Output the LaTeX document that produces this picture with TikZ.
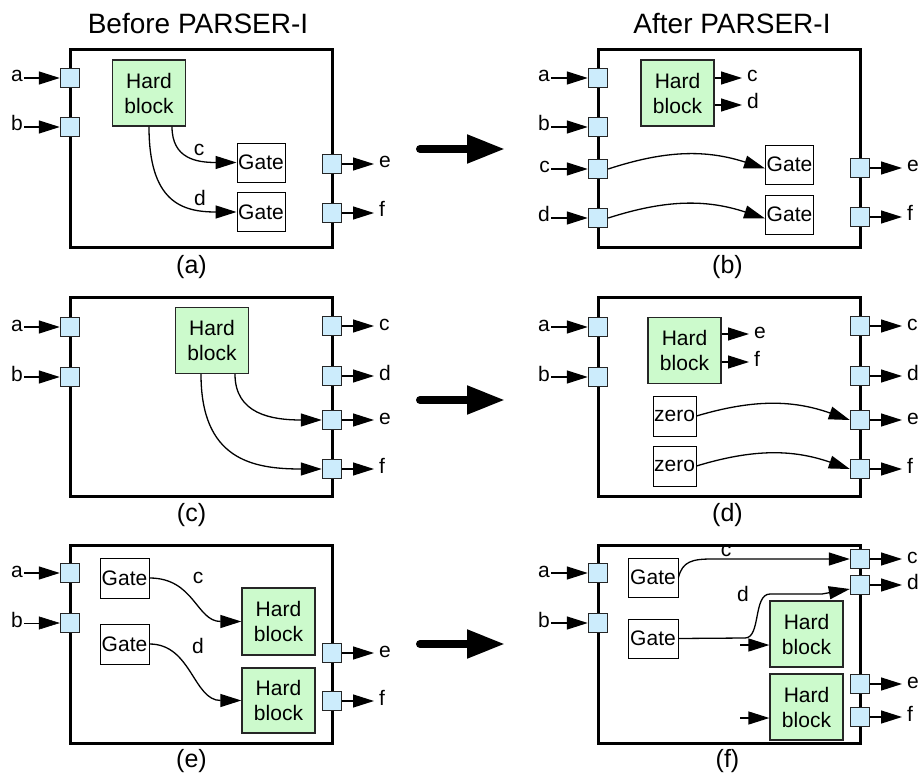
\documentclass[tikz,border=0pt]{standalone}
\usepackage{fontspec}
\setmainfont{Liberation Sans}
\usepackage{tikz}
\usepackage{xcolor}
\usetikzlibrary{arrows.meta}

\definecolor{portblue}{RGB}{204,236,252}
\definecolor{hardgreen}{RGB}{204,250,204}
\newcommand\labelsz{\fontsize{21}{25}\selectfont}
\newcommand\headsz{\fontsize{28}{32}\selectfont}
\newcommand\capsz{\fontsize{25}{28}\selectfont}

\tikzset{
    frame/.style={line width=3pt},
    port/.style={draw=black!85, line width=1.4pt, fill=portblue, minimum size=19pt, inner sep=0pt},
    hard/.style={draw=black!85, line width=1.3pt, fill=hardgreen, align=center, inner sep=0pt,
        minimum width=73pt, minimum height=66pt, font=\labelsz},
    gate/.style={draw, line width=0.9pt, inner sep=0pt, minimum width=48pt, minimum height=39pt, font=\labelsz},
    zero/.style={gate, minimum width=43pt, minimum height=40pt},
    lbl/.style={inner sep=1pt, font=\labelsz},
    inl/.style={lbl, anchor=base east},
    outl/.style={lbl, anchor=base west, inner xsep=5pt},
    arr/.style={line width=1.3pt, -{Triangle[length=21pt,width=13pt]}},
    bigarr/.style={line width=8pt, line cap=round, -{Triangle[length=38pt,width=27pt]}},
}

\begin{document}
\begin{tikzpicture}[x=1pt, y=-1pt]
        \useasboundingbox (0,0) rectangle (918,778);

        \node[font=\headsz] at (198,24) (tbefore) {Before PARSER-I};
        \node[font=\headsz] at (732,24) (tafter) {After PARSER-I};

        \foreach \n/\y in {1/149, 2/400, 3/644} {
            \coordinate (bs\n) at (420,\y);
            \coordinate (bt\n) at (505,\y);
            \draw[bigarr] (bs\n) -- (bt\n);
        }

        \draw[frame] (70,50) rectangle (332,247);
        \node[port] at (70,78) (Aa) {};
        \node[port] at (70,127) (Ab) {};
        \node[port] at (332,164) (Ae) {};
        \node[port] at (332,213) (Af) {};
        \node[inl] at (24,82) (Ala) {a};
        \node[inl] at (24,131) (Alb) {b};
        \node[outl] at (374,168) (Ale) {e};
        \node[outl] at (374,217) (Alf) {f};
        \node[hard] at (149,93) (Ahb) {Hard\\block};
        \node[gate] at (261,162.5) (Ag1) {Gate};
        \node[gate] at (261,212) (Ag2) {Gate};
        \node[lbl] at (199,150) (Alc) {c};
        \node[lbl] at (200,198) (Ald) {d};
        \draw[arr] (Ala.east |- Aa) -- (Aa);
        \draw[arr] (Alb.east |- Ab) -- (Ab);
        \draw[arr] (Ae) -- (Ale.west |- Ae);
        \draw[arr] (Af) -- (Alf.west |- Af);
        \draw[arr] ([xshift=23pt]Ahb.south) .. controls +(0,32) and +(-40,0) .. (Ag1.west);
        \draw[arr] (Ahb.south) .. controls +(0,75) and +(-55,0) .. (Ag2.west);
        \node[font=\capsz] at (191.5,267) (capa) {(a)};

        \draw[frame] (598,50) rectangle (860,247);
        \node[port] at (598,78) (Ba) {};
        \node[port] at (598,127) (Bb) {};
        \node[port] at (598,169) (Bc) {};
        \node[port] at (598,218) (Bd) {};
        \node[port] at (860,168) (Be) {};
        \node[port] at (860,217) (Bf) {};
        \node[inl] at (551,82) (Bla) {a};
        \node[inl] at (551,131) (Blb) {b};
        \node[inl] at (551,173) (Blc) {c};
        \node[inl] at (551,222) (Bld) {d};
        \node[outl] at (902,172) (Ble) {e};
        \node[outl] at (902,221) (Blf) {f};
        \node[hard] at (677.5,93) (Bhb) {Hard\\block};
        \node[outl] at (742,82) (Bhc) {c};
        \node[outl] at (742,109) (Bhd) {d};
        \node[gate] at (789.5,164.5) (Bg1) {Gate};
        \node[gate] at (789.5,214.5) (Bg2) {Gate};
        \draw[arr] (Bla.east |- Ba) -- (Ba);
        \draw[arr] (Blb.east |- Bb) -- (Bb);
        \draw[arr] (Blc.east |- Bc) -- (Bc);
        \draw[arr] (Bld.east |- Bd) -- (Bd);
        \draw[arr] (Be) -- (Ble.west |- Be);
        \draw[arr] (Bf) -- (Blf.west |- Bf);
        \draw[arr] ([yshift=15pt]Bhb.east) -- ([yshift=15pt]Bhb.east -| Bhc.west);
        \draw[arr] ([yshift=-12pt]Bhb.east) -- ([yshift=-12pt]Bhb.east -| Bhd.west);
        \draw[arr] (Bc.east) to[bend left=18] ([yshift=-4pt]Bg1.west);
        \draw[arr] (Bd.east) to[bend left=18] ([yshift=-4pt]Bg2.west);
        \node[font=\capsz] at (727.5,267) (capb) {(b)};

        \draw[frame] (70,297) rectangle (332,496);
        \node[port] at (70,327) (Ca) {};
        \node[port] at (70,377) (Cb) {};
        \node[port] at (332,326) (Cc) {};
        \node[port] at (332,376) (Cd) {};
        \node[port] at (332,420) (Ce) {};
        \node[port] at (332,469) (Cf) {};
        \node[inl] at (24,331) (Cla) {a};
        \node[inl] at (24,381) (Clb) {b};
        \node[outl] at (374,330) (Clc) {c};
        \node[outl] at (374,380) (Cld) {d};
        \node[outl] at (374,424) (Cle) {e};
        \node[outl] at (374,473) (Clf) {f};
        \node[hard] at (212,340.5) (Chb) {Hard\\block};
        \draw[arr] (Cla.east |- Ca) -- (Ca);
        \draw[arr] (Clb.east |- Cb) -- (Cb);
        \draw[arr] (Cc) -- (Clc.west |- Cc);
        \draw[arr] (Cd) -- (Cld.west |- Cd);
        \draw[arr] (Ce) -- (Cle.west |- Ce);
        \draw[arr] (Cf) -- (Clf.west |- Cf);
        \draw[arr] ([xshift=23pt]Chb.south) .. controls +(0,40) and +(-50,0) .. (Ce.west);
        \draw[arr] ([xshift=-11pt]Chb.south) .. controls +(0,85) and +(-70,0) .. (Cf.west);
        \node[font=\capsz] at (191.5,515) (capc) {(c)};

        \draw[frame] (598,297) rectangle (860,496);
        \node[port] at (598,327) (Da) {};
        \node[port] at (598,377) (Db) {};
        \node[port] at (860,326) (Dc) {};
        \node[port] at (860,376) (Dd) {};
        \node[port] at (860,420) (De) {};
        \node[port] at (860,469) (Df) {};
        \node[inl] at (551,331) (Dla) {a};
        \node[inl] at (551,381) (Dlb) {b};
        \node[outl] at (902,330) (Dlc) {c};
        \node[outl] at (902,380) (Dld) {d};
        \node[outl] at (902,424) (Dle) {e};
        \node[outl] at (902,473) (Dlf) {f};
        \node[hard] at (684.5,350.5) (Dhb) {Hard\\block};
        \node[outl] at (749,338) (Dhe) {e};
        \node[outl] at (749,366) (Dhf) {f};
        \node[zero] at (674.5,416) (Dz1) {zero};
        \node[zero] at (674.5,466) (Dz2) {zero};
        \draw[arr] (Dla.east |- Da) -- (Da);
        \draw[arr] (Dlb.east |- Db) -- (Db);
        \draw[arr] (Dc) -- (Dlc.west |- Dc);
        \draw[arr] (Dd) -- (Dld.west |- Dd);
        \draw[arr] (De) -- (Dle.west |- De);
        \draw[arr] (Df) -- (Dlf.west |- Df);
        \draw[arr] ([yshift=16.5pt]Dhb.east) -- ([yshift=16.5pt]Dhb.east -| Dhe.west);
        \draw[arr] ([yshift=-11.5pt]Dhb.east) -- ([yshift=-11.5pt]Dhb.east -| Dhf.west);
        \draw[arr] (Dz1.east) to[bend left=18] (De.west);
        \draw[arr] (Dz2.east) to[bend left=18] (Df.west);
        \node[font=\capsz] at (727.5,515) (capd) {(d)};

        \draw[frame] (70,545) rectangle (332,743);
        \node[port] at (70,573) (Ea) {};
        \node[port] at (70,623) (Eb) {};
        \node[port] at (332,653) (Ee) {};
        \node[port] at (332,701) (Ef) {};
        \node[inl] at (24,577) (Ela) {a};
        \node[inl] at (24,627) (Elb) {b};
        \node[outl] at (374,657) (Ele) {e};
        \node[outl] at (374,705) (Elf) {f};
        \node[gate, minimum width=49pt, minimum height=40pt] at (124.5,578) (Eg1) {Gate};
        \node[gate, minimum width=49pt, minimum height=40pt] at (124.5,644) (Eg2) {Gate};
        \node[hard, minimum height=67pt] at (278.5,621.5) (Eh1) {Hard\\block};
        \node[hard, minimum height=65pt] at (278.5,700.5) (Eh2) {Hard\\block};
        \node[lbl] at (198,578) (Elc) {c};
        \node[lbl] at (198,646) (Eld) {d};
        \draw[arr] (Ela.east |- Ea) -- (Ea);
        \draw[arr, line width=0.6pt] (Elb.east |- Eb) -- (Eb);
        \draw[arr] (Ee) -- (Ele.west |- Ee);
        \draw[arr] (Ef) -- (Elf.west |- Ef);
        \draw[arr] (Eg1.east) .. controls +(45,0) and +(-45,0) .. (Eh1.west);
        \draw[arr] (Eg2.east) .. controls +(42,0) and +(-48,0) .. (Eh2.west);
        \node[font=\capsz] at (191.5,761) (cape) {(e)};

        \draw[frame] (598,545) rectangle (860,743);
        \node[port] at (598,573) (Fa) {};
        \node[port] at (598,623) (Fb) {};
        \node[port] at (860,559) (Fc) {};
        \node[port] at (860,585) (Fd) {};
        \node[port] at (860,684) (Fe) {};
        \node[port] at (860,717) (Ff) {};
        \node[inl] at (551,577) (Fla) {a};
        \node[inl] at (551,627) (Flb) {b};
        \node[outl] at (902,563) (Flc) {c};
        \node[outl] at (902,589) (Fld) {d};
        \node[outl] at (902,688) (Fle) {e};
        \node[outl] at (902,721) (Flf) {f};
        \node[gate, minimum width=50pt] at (653,577.5) (Fg1) {Gate};
        \node[gate, minimum width=50pt] at (653,638.5) (Fg2) {Gate};
        \node[hard] at (806.5,634) (Fh1) {Hard\\block};
        \node[hard] at (806.5,707) (Fh2) {Hard\\block};
        \node[lbl] at (726,551) (Fhc) {c};
        \node[lbl] at (743,594) (Fhd) {d};
        \coordinate (Fi1) at (740,645);
        \coordinate (Fi2) at (740,718);
        \draw[arr] (Fla.east |- Fa) -- (Fa);
        \draw[arr] (Flb.east |- Fb) -- (Fb);
        \draw[arr] (Fc) -- (Flc.west |- Fc);
        \draw[arr] (Fd) -- (Fld.west |- Fd);
        \draw[arr] (Fe) -- (Fle.west |- Fe);
        \draw[arr] (Ff) -- (Flf.west |- Ff);
        \draw[arr] (Fg1.east) .. controls +(4,-16) and +(-20,0) .. (712,559) -- (Fc);
        \draw[arr] (Fg2.east) -- (745,638) .. controls (761,638) and (753,594) .. (770,594) -- (822,594) -- ([yshift=-4pt]Fd.west);
        \draw[arr] (Fi1) -- (Fi1 -| Fh1.west);
        \draw[arr] (Fi2) -- (Fi2 -| Fh2.west);
        \node[font=\capsz] at (727.5,761) (capf) {(f)};
    \end{tikzpicture}
\end{document}
